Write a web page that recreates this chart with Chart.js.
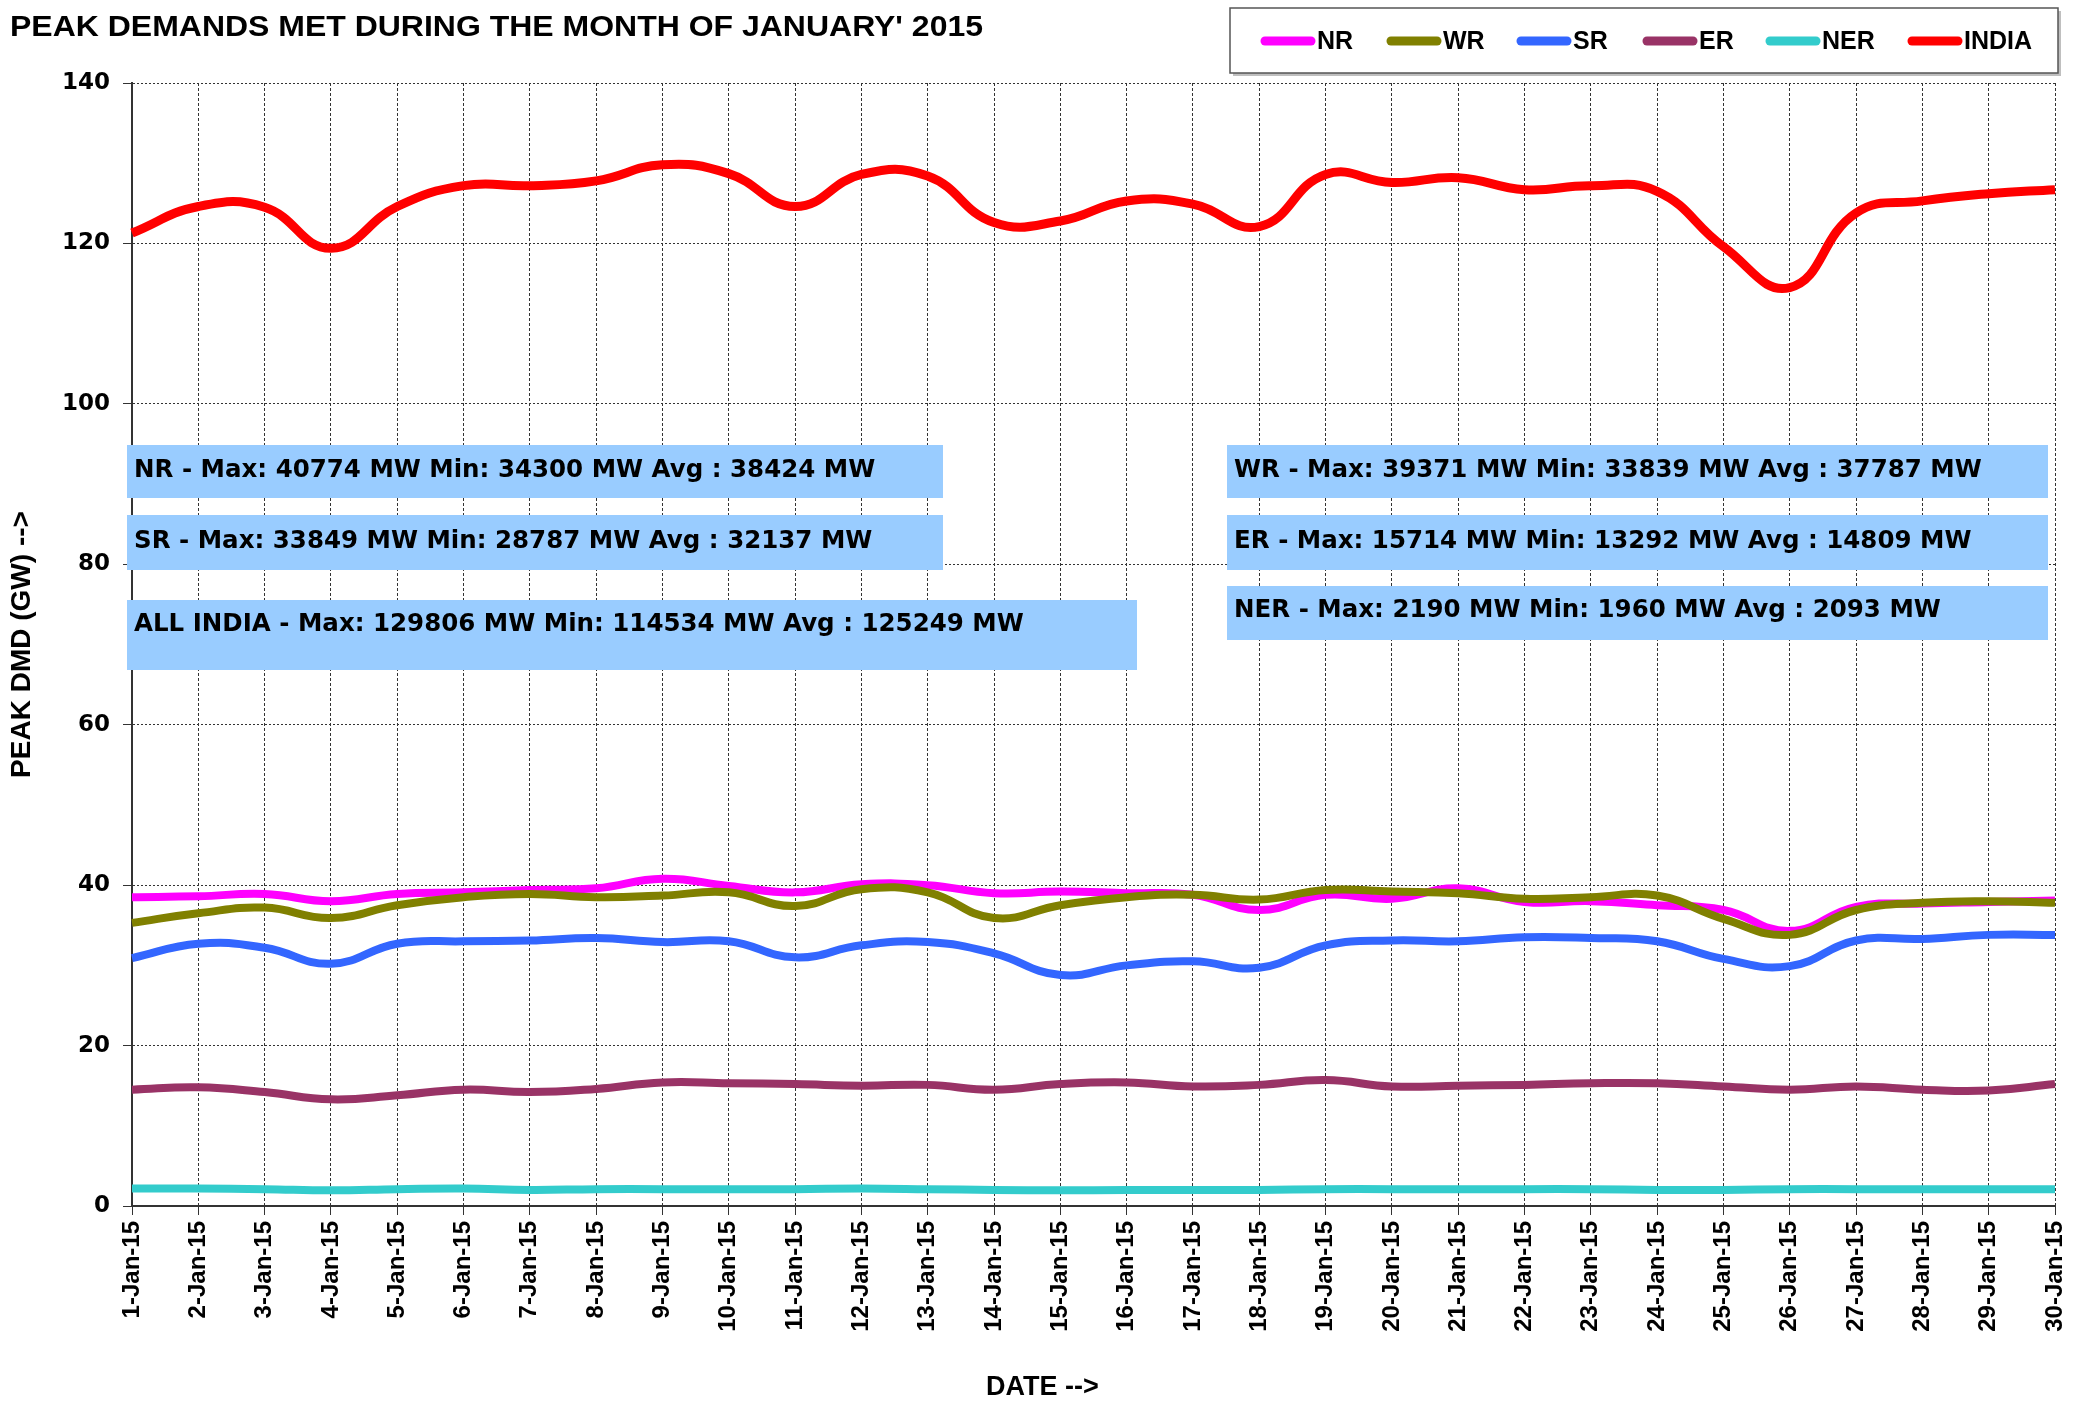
<!DOCTYPE html>
<html>
<head>
<meta charset="utf-8">
<script src="https://cdn.jsdelivr.net/npm/chart.js@4.4.1/dist/chart.umd.min.js"></script>
<style>
  html, body { margin: 0; padding: 0; background: #fff; }
  #chartBox { width: 2078px; height: 1407px; }
</style>
</head>
<body>
<div id="chartBox"><canvas id="chart"></canvas></div>
<script>
const days = ['1-Jan-15', '2-Jan-15', '3-Jan-15', '4-Jan-15', '5-Jan-15', '6-Jan-15', '7-Jan-15', '8-Jan-15', '9-Jan-15', '10-Jan-15',
    '11-Jan-15', '12-Jan-15', '13-Jan-15', '14-Jan-15', '15-Jan-15', '16-Jan-15', '17-Jan-15', '18-Jan-15', '19-Jan-15', '20-Jan-15',
    '21-Jan-15', '22-Jan-15', '23-Jan-15', '24-Jan-15', '25-Jan-15', '26-Jan-15', '27-Jan-15', '28-Jan-15', '29-Jan-15', '30-Jan-15'];

// peak demand met, GW
const nrData = [38.5, 38.6, 38.9, 38.0, 38.9, 39.1, 39.4, 39.6, 40.8, 39.9, 39.1, 40.1, 40.0, 39.0, 39.2,
    39.0, 38.8, 36.9, 38.8, 38.3, 39.6, 37.9, 38.0, 37.5, 36.9, 34.3, 37.3, 37.7, 37.9, 38.1];
const wrData = [35.3, 36.5, 37.2, 35.9, 37.5, 38.5, 38.9, 38.5, 38.7, 39.1, 37.4, 39.5, 39.1, 35.9, 37.5,
    38.5, 38.8, 38.2, 39.4, 39.2, 39.0, 38.3, 38.5, 38.7, 35.8, 33.8, 36.9, 37.8, 38.0, 37.8];
const srData = [30.9, 32.7, 32.2, 30.2, 32.7, 33.0, 33.1, 33.4, 32.9, 33.0, 31.0, 32.5, 32.9, 31.5, 28.8,
    30.0, 30.5, 29.7, 32.5, 33.1, 33.0, 33.5, 33.4, 33.0, 30.8, 29.9, 33.1, 33.3, 33.8, 33.8];
const erData = [14.5, 14.8, 14.2, 13.3, 13.8, 14.5, 14.2, 14.6, 15.4, 15.3, 15.2, 15.0, 15.1, 14.5, 15.2,
    15.4, 14.9, 15.1, 15.7, 14.9, 15.0, 15.1, 15.3, 15.3, 14.9, 14.5, 14.9, 14.5, 14.4, 15.2];
const nerData = [2.17, 2.17, 2.10, 1.96, 2.10, 2.19, 2.00, 2.10, 2.10, 2.10, 2.10, 2.17, 2.10, 2.00, 1.96,
    2.00, 2.00, 2.00, 2.10, 2.10, 2.10, 2.10, 2.10, 2.00, 2.00, 2.10, 2.10, 2.10, 2.10, 2.10];
const indiaData = [121.3, 124.6, 124.5, 119.4, 124.6, 127.2, 127.2, 127.8, 129.8, 128.7, 124.6, 128.6, 128.4, 122.6, 122.8,
    125.3, 124.9, 122.1, 128.6, 127.6, 128.2, 126.7, 127.2, 126.5, 119.6, 114.5, 123.8, 125.3, 126.2, 126.7];

const seriesNames = ['NR', 'WR', 'SR', 'ER', 'NER', 'INDIA'];
const seriesColors = ['#FF00FF', '#808000', '#3366FF', '#993366', '#33CCCC', '#FF0000'];

const yTicks = [0, 20, 40, 60, 80, 100, 120, 140];

const chartTitle = "PEAK DEMANDS MET DURING THE MONTH OF JANUARY' 2015";
const yTitle = 'PEAK DMD (GW) -->';
const xTitle = 'DATE -->';

const statTexts = [
    'NR - Max: 40774 MW Min: 34300 MW Avg : 38424 MW',
    'SR - Max: 33849 MW Min: 28787 MW Avg : 32137 MW',
    'ALL INDIA - Max: 129806 MW Min: 114534 MW Avg : 125249 MW',
    'WR - Max: 39371 MW Min: 33839 MW Avg : 37787 MW',
    'ER - Max: 15714 MW Min: 13292 MW Avg : 14809 MW',
    'NER - Max: 2190 MW Min: 1960 MW Avg : 2093 MW'
];

// text box placement (canvas pixels): x, y, w, h, text centre y
const statBoxes = [
    [127, 445, 816, 53, 471],
    [127, 515, 816, 55, 542],
    [127, 600, 1010, 70, 625],
    [1227, 445, 821, 53, 471],
    [1227, 515, 821, 55, 542],
    [1227, 586, 821, 54, 611]
];

const legendSlots = [1261, 1387, 1517, 1643, 1766, 1908];

const seriesData = [nrData, wrData, srData, erData, nerData, indiaData];

const datasets = seriesNames.map((name, i) => ({
    label: name,
    data: seriesData[i],
    borderColor: seriesColors[i],
    backgroundColor: seriesColors[i],
    borderWidth: name === 'INDIA' ? 9 : 8,
    pointRadius: 0,
    tension: 0.45,
    fill: false,
    order: seriesNames.length - i
}));

const extrasPlugin = {
    id: 'extras',
    afterDatasetsDraw(chart) {
        const ctx = chart.ctx;
        ctx.save();
        // stat boxes
        statBoxes.forEach((b, i) => {
            ctx.fillStyle = '#99CCFF';
            ctx.fillRect(b[0], b[1], b[2], b[3]);
            ctx.fillStyle = '#000';
            ctx.font = 'bold 24.5px "DejaVu Sans"';
            ctx.textBaseline = 'middle';
            ctx.textAlign = 'left';
            ctx.fillText(statTexts[i], b[0] + 7, b[4]);
        });
        ctx.restore();
    },
    afterDraw(chart) {
        const ctx = chart.ctx;
        ctx.save();
        // title
        ctx.fillStyle = '#000';
        ctx.font = 'bold 29px "Liberation Sans", Arial';
        ctx.textBaseline = 'middle';
        ctx.textAlign = 'left';
        const tw = ctx.measureText(chartTitle).width;
        ctx.save();
        ctx.translate(10, 28);
        ctx.scale(973 / tw, 1);
        ctx.fillText(chartTitle, 0, 0);
        ctx.restore();

        // x axis title
        ctx.font = 'bold 27px "Liberation Sans", Arial';
        ctx.textAlign = 'left';
        ctx.fillText(xTitle, 986, 1388);

        // legend
        ctx.fillStyle = 'rgba(0,0,0,0.25)';
        ctx.fillRect(1233, 11, 828, 65);
        ctx.fillStyle = '#fff';
        ctx.fillRect(1230, 8, 828, 65);
        ctx.strokeStyle = '#555';
        ctx.lineWidth = 1.5;
        ctx.strokeRect(1230, 8, 828, 65);
        chart.data.datasets.forEach((ds, i) => {
            const x = legendSlots[i];
            ctx.strokeStyle = ds.borderColor;
            ctx.lineWidth = 9;
            ctx.lineCap = 'round';
            ctx.beginPath();
            ctx.moveTo(x + 4, 41);
            ctx.lineTo(x + 50, 41);
            ctx.stroke();
            ctx.fillStyle = '#000';
            ctx.font = 'bold 25px "Liberation Sans", Arial';
            ctx.textBaseline = 'middle';
            ctx.fillText(ds.label, x + 56, 42);
        });
        ctx.restore();
    }
};

new Chart(document.getElementById('chart'), {
    type: 'line',
    data: { labels: days, datasets: datasets },
    plugins: [extrasPlugin],
    options: {
        responsive: true,
        maintainAspectRatio: false,
        animation: false,
        devicePixelRatio: 1,
        layout: { padding: { top: 83, right: 23, bottom: 0, left: 0 } },
        plugins: {
            legend: { display: false },
            title: { display: false },
            tooltip: { enabled: false }
        },
        scales: {
            x: {
                offset: false,
                afterFit: (scale) => {
                    scale.height = 201;
                    scale.paddingRight = 5;
                },
                grid: { color: '#333', lineWidth: 1, tickLength: 9, tickColor: '#333' },
                border: { display: true, color: '#333', width: 2, dash: [3, 2] },
                ticks: {
                    autoSkip: false,
                    minRotation: 90,
                    maxRotation: 90,
                    padding: 6,
                    color: '#000',
                    font: { family: '"Liberation Sans", Arial', weight: 'bold', size: 24 }
                }
            },
            y: {
                min: 0,
                max: 140,
                afterFit: (scale) => { scale.width = 132; },
                afterBuildTicks: (scale) => { scale.ticks = yTicks.map(v => ({ value: v })); },
                grid: { color: '#333', lineWidth: 1, tickLength: 9, tickColor: '#333' },
                border: { display: true, color: '#333', width: 2, dash: [2, 2] },
                ticks: {
                    padding: 13,
                    color: '#000',
                    font: { family: '"DejaVu Sans"', weight: 'bold', size: 23 }
                },
                title: {
                    display: true,
                    text: yTitle,
                    color: '#000',
                    padding: { top: 5, bottom: 0 },
                    font: { family: '"Liberation Sans", Arial', weight: 'bold', size: 28 }
                }
            }
        }
    }
});
</script>
</body>
</html>
